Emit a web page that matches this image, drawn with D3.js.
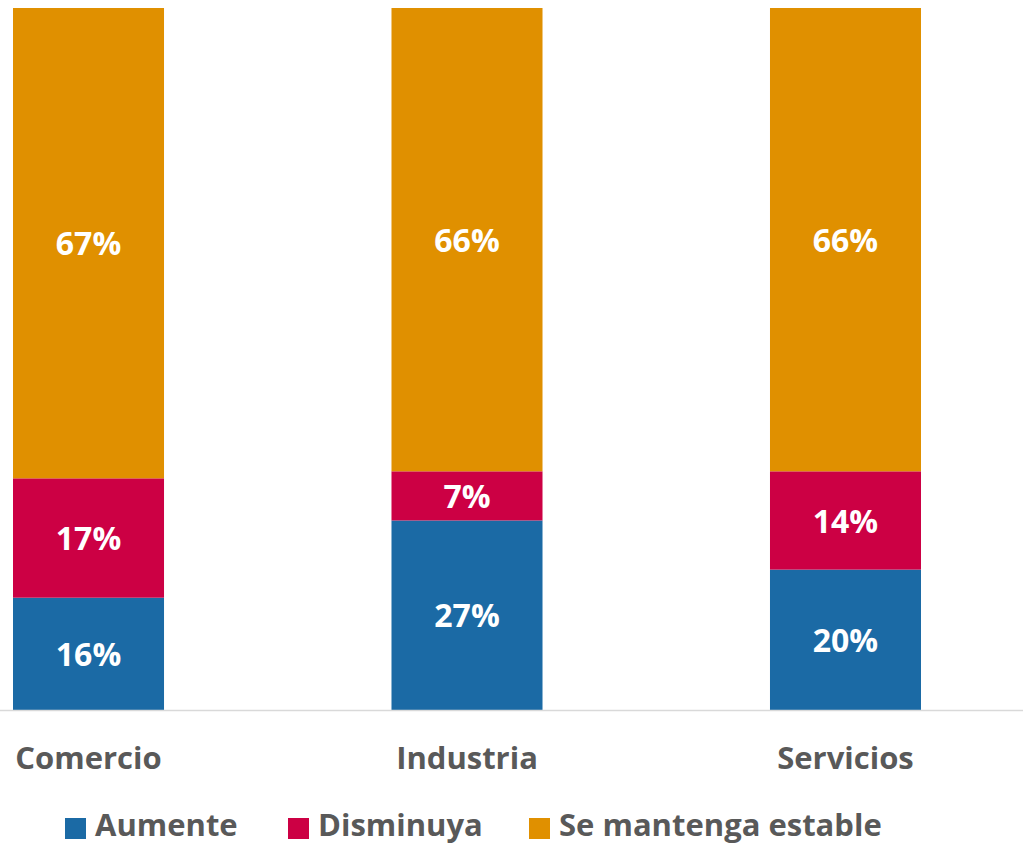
<!DOCTYPE html>
<html>
<head>
<meta charset="utf-8">
<script src="https://cdn.jsdelivr.net/npm/d3@7"></script>
<style>
  body { margin: 0; background: white; }
  text { font-family: "Open Sans", Lato, sans-serif; font-weight: bold; }
</style>
</head>
<body>
<div id="chart"></div>
<script>
const categories = ['Comercio', 'Industria', 'Servicios'];
const seriesNames = ['Aumente', 'Disminuya', 'Se mantenga estable'];
const aumente = [16, 27, 20];
const disminuya = [17, 7, 14];
const estable = [67, 66, 66];

const colors = ['#1b6aa5', '#cc0044', '#e09000'];

const w = 1023;
const h = 846;

const rows = categories.map((c, i) => ({
  cat: c,
  'Aumente': aumente[i],
  'Disminuya': disminuya[i],
  'Se mantenga estable': estable[i],
}));

const stack = d3.stack().keys(seriesNames)(rows);

const xScale = d3.scaleBand()
  .domain(categories)
  .range([13, 921])
  .paddingInner(0.601)
  .paddingOuter(0);

const yScale = d3.scaleLinear()
  .domain([0, 100])
  .range([710, 8]);

const svg = d3.select('#chart')
  .append('svg')
  .attr('width', w)
  .attr('height', h);

const groups = svg.selectAll('g.series')
  .data(stack)
  .enter()
  .append('g')
  .attr('class', 'series')
  .attr('fill', (d, i) => colors[i]);

groups.selectAll('rect')
  .data((d) => d)
  .enter()
  .append('rect')
  .attr('x', (d) => xScale(d.data.cat))
  .attr('width', xScale.bandwidth())
  .attr('y', (d) => yScale(d[1]))
  .attr('height', (d) => yScale(d[0]) - yScale(d[1]));

groups.selectAll('text')
  .data((d) => d)
  .enter()
  .append('text')
  .attr('x', (d) => xScale(d.data.cat) + xScale.bandwidth() / 2)
  .attr('y', (d) => (yScale(d[0]) + yScale(d[1])) / 2)
  .attr('text-anchor', 'middle')
  .attr('dy', '0.38em')
  .attr('fill', 'white')
  .style('font-size', '32px')
  .text((d) => (d[1] - d[0]) + '%');

// baseline
svg.append('line')
  .attr('x1', 0)
  .attr('x2', w)
  .attr('y1', yScale(0) + 0.5)
  .attr('y2', yScale(0) + 0.5)
  .attr('stroke', '#d9d9d9')
  .attr('stroke-width', 1.5);

const xAxis = d3.axisBottom(xScale).tickSize(0).tickPadding(0);

const axisG = svg.append('g')
  .attr('transform', 'translate(0,' + 748 + ')')
  .call(xAxis);
axisG.select('.domain').remove();
axisG.selectAll('text')
  .attr('fill', '#595959')
  .attr('dy', '0.36em')
  .attr('y', 10)
  .style('font-size', '31px');

// legend
const legendX = [65, 288, 529];
const legend = svg.selectAll('g.legend')
  .data(seriesNames)
  .enter()
  .append('g')
  .attr('class', 'legend')
  .attr('transform', (d, i) => 'translate(' + legendX[i] + ',826)');

legend.append('rect')
  .attr('x', 0)
  .attr('y', -8)
  .attr('width', 21)
  .attr('height', 21)
  .attr('fill', (d, i) => colors[i]);

legend.append('text')
  .attr('x', 30)
  .attr('dy', '0.33em')
  .attr('fill', '#595959')
  .style('font-size', '31px')
  .text((d) => d);
</script>
</body>
</html>
